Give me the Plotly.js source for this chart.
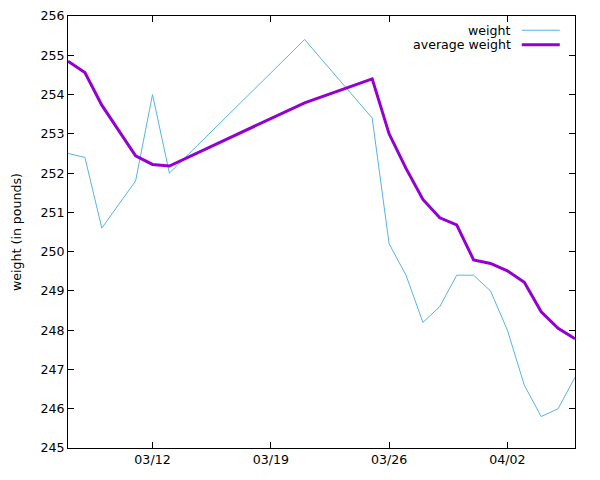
<!DOCTYPE html>
<html>
<head>
<meta charset="utf-8">
<script src="https://cdn.plot.ly/plotly-3.0.1.min.js"></script>
<style>html,body{margin:0;padding:0;background:#fff;}#chart{width:600px;height:480px;}</style>
</head>
<body>
<div id="chart"></div>
<script>
const dates = ["2024-03-07","2024-03-08","2024-03-09","2024-03-11","2024-03-12","2024-03-13",
  "2024-03-21","2024-03-25","2024-03-26","2024-03-27","2024-03-28","2024-03-29","2024-03-30",
  "2024-03-31","2024-04-01","2024-04-02","2024-04-03","2024-04-04","2024-04-05","2024-04-06"];
const weight = [252.5,252.4,250.6,251.8,254.0,252.0,255.4,253.4,250.2,249.4,248.2,248.6,249.4,
  249.4,249.0,248.0,246.6,245.8,246.0,246.8];
const averageWeight = [254.85,254.56,253.73,252.44,252.22,252.18,253.79,254.4,253.0,252.12,251.33,
  250.86,250.68,249.79,249.70,249.51,249.22,248.47,248.05,247.78];
const seriesNames = ["weight","average weight"];
const yTitle = "weight (in pounds)";

const font = {family: "DejaVu Sans, sans-serif", size: 12.6, color: "#000"};

const traces = [
  {x: dates, y: weight, type: "scatter", mode: "lines", name: seriesNames[0],
   line: {color: "#56b4e9", width: 1}},
  {x: dates, y: averageWeight, type: "scatter", mode: "lines", name: seriesNames[1],
   line: {color: "#9400d3", width: 3}}
];

const legendRows = [
  {name: seriesNames[0], color: "#56b4e9", width: 1, y: 0.967},
  {name: seriesNames[1], color: "#9400d3", width: 3, y: 0.9336}
];

const layout = {
  width: 600, height: 480,
  margin: {l: 68, r: 25, t: 16, b: 32},
  paper_bgcolor: "#fff", plot_bgcolor: "#fff",
  font: font,
  showlegend: false,
  xaxis: {
    type: "date",
    range: ["2024-03-07", "2024-04-06"],
    tick0: "2024-03-12", dtick: 7*24*3600*1000,
    tickformat: "%m/%d",
    ticks: "inside", ticklen: 6, tickcolor: "#000", tickwidth: 1,
    showline: true, linecolor: "#000", linewidth: 1, mirror: "ticks",
    showgrid: false, zeroline: false,
    tickfont: font
  },
  yaxis: {
    range: [245, 256], dtick: 1, tick0: 245,
    ticks: "inside", ticklen: 6, tickcolor: "#000", tickwidth: 1,
    showline: true, linecolor: "#000", linewidth: 1, mirror: "ticks",
    showgrid: false, zeroline: false,
    tickfont: font,
    title: {text: yTitle, font: font, standoff: 16}
  },
  annotations: legendRows.map(r => ({
    xref: "paper", yref: "paper", x: 0.878, y: r.y, xanchor: "right", yanchor: "middle",
    text: r.name, showarrow: false, font: font
  })),
  shapes: legendRows.map(r => ({
    type: "line", xref: "paper", yref: "paper", x0: 0.895, x1: 0.97, y0: r.y, y1: r.y,
    line: {color: r.color, width: r.width}
  }))
};

Plotly.newPlot("chart", traces, layout, {displayModeBar: false, staticPlot: true});
</script>
</body>
</html>
